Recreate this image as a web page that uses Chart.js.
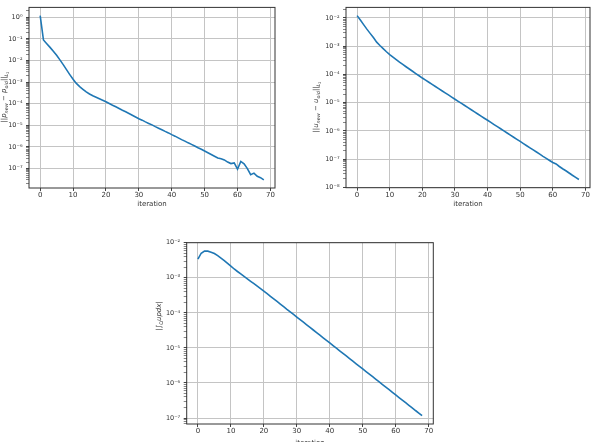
<!DOCTYPE html>
<html>
<head>
<meta charset="utf-8">
<script src="https://cdn.jsdelivr.net/npm/chart.js@4"></script>
<style>
  body { margin: 0; background: #fff; width: 591px; height: 442px; overflow: hidden; position: relative; }
  canvas { position: absolute; }
</style>
</head>
<body>
<canvas id="pChart" width="285" height="215" style="left:0px;top:0px"></canvas>
<canvas id="uChart" width="296" height="215" style="left:295px;top:0px"></canvas>
<canvas id="intChart" width="300" height="212" style="left:140px;top:230px"></canvas>
<script>
// iteration numbers (x axis)
const iterations = [
  0, 1, 2, 3, 4, 5, 6, 7, 8, 9,
  10, 11, 12, 13, 14, 15, 16, 17, 18, 19,
  20, 21, 22, 23, 24, 25, 26, 27, 28, 29,
  30, 31, 32, 33, 34, 35, 36, 37, 38, 39,
  40, 41, 42, 43, 44, 45, 46, 47, 48, 49,
  50, 51, 52, 53, 54, 55, 56, 57, 58, 59,
  60, 61, 62, 63, 64, 65, 66, 67, 68
];
const xTicks = [0, 10, 20, 30, 40, 50, 60, 70];

// ||p_new - p_old||
const pDiff = [
  1.20, 8.91e-2, 6.03e-2, 4.07e-2, 2.69e-2, 1.74e-2, 1.07e-2, 6.46e-3, 3.80e-3, 2.24e-3,
  1.35e-3, 8.71e-4, 6.17e-4, 4.68e-4, 3.55e-4, 2.82e-4, 2.34e-4, 2.00e-4, 1.70e-4, 1.45e-4,
  1.23e-4, 1.02e-4, 8.51e-5, 7.24e-5, 6.03e-5, 5.01e-5, 4.27e-5, 3.55e-5, 2.95e-5, 2.45e-5,
  2.04e-5, 1.74e-5, 1.45e-5, 1.23e-5, 1.05e-5, 8.71e-6, 7.41e-6, 6.31e-6, 5.25e-6, 4.47e-6,
  3.72e-6, 3.16e-6, 2.63e-6, 2.19e-6, 1.86e-6, 1.55e-6, 1.32e-6, 1.10e-6, 9.12e-7, 7.76e-7,
  6.46e-7, 5.37e-7, 4.47e-7, 3.72e-7, 3.09e-7, 2.82e-7, 2.51e-7, 2.00e-7, 1.70e-7, 1.82e-7,
  9.33e-8, 2.14e-7, 1.66e-7, 1.00e-7, 5.25e-8, 6.17e-8, 4.37e-8, 3.80e-8, 3.02e-8
];

// ||u_new - u_old||
const uDiff = [
  1.20e-2, 8.32e-3, 5.75e-3, 3.98e-3, 2.82e-3, 2.00e-3, 1.38e-3, 1.05e-3, 8.13e-4, 6.31e-4,
  5.01e-4, 4.07e-4, 3.31e-4, 2.69e-4, 2.24e-4, 1.86e-4, 1.55e-4, 1.29e-4, 1.07e-4, 8.91e-5,
  7.41e-5, 6.24e-5, 5.25e-5, 4.43e-5, 3.72e-5, 3.13e-5, 2.64e-5, 2.22e-5, 1.87e-5, 1.57e-5,
  1.32e-5, 1.11e-5, 9.38e-6, 7.91e-6, 6.65e-6, 5.60e-6, 4.71e-6, 3.96e-6, 3.34e-6, 2.81e-6,
  2.37e-6, 1.99e-6, 1.67e-6, 1.41e-6, 1.19e-6, 1.00e-6, 8.41e-7, 7.08e-7, 5.97e-7, 5.02e-7,
  4.23e-7, 3.56e-7, 2.99e-7, 2.52e-7, 2.12e-7, 1.79e-7, 1.50e-7, 1.26e-7, 1.07e-7, 8.97e-8,
  7.59e-8, 6.76e-8, 5.50e-8, 4.57e-8, 3.89e-8, 3.24e-8, 2.69e-8, 2.26e-8, 1.91e-8
];

// |integral of u p dx|
const intUp = [
  3.39e-3, 5.01e-3, 5.75e-3, 5.75e-3, 5.37e-3, 4.90e-3, 4.27e-3, 3.63e-3, 3.09e-3, 2.57e-3,
  2.14e-3, 1.78e-3, 1.51e-3, 1.29e-3, 1.10e-3, 9.33e-4, 7.94e-4, 6.76e-4, 5.75e-4, 4.90e-4,
  4.17e-4, 3.52e-4, 2.96e-4, 2.50e-4, 2.11e-4, 1.78e-4, 1.50e-4, 1.26e-4, 1.07e-4, 9.00e-5,
  7.59e-5, 6.40e-5, 5.40e-5, 4.55e-5, 3.84e-5, 3.24e-5, 2.73e-5, 2.30e-5, 1.94e-5, 1.64e-5,
  1.38e-5, 1.16e-5, 9.82e-6, 8.28e-6, 6.98e-6, 5.89e-6, 4.97e-6, 4.19e-6, 3.53e-6, 2.98e-6,
  2.51e-6, 2.12e-6, 1.79e-6, 1.51e-6, 1.27e-6, 1.07e-6, 9.04e-7, 7.62e-7, 6.43e-7, 5.42e-7,
  4.57e-7, 3.85e-7, 3.25e-7, 2.74e-7, 2.31e-7, 1.95e-7, 1.64e-7, 1.39e-7, 1.17e-7
];

// y axis limits [min, max]
const pLimits = [1.26e-8, 2.88];
const uLimits = [9.77e-9, 2.34e-2];
const intLimits = [6.76e-8, 1.0e-2];

const FONT = '"DejaVu Sans", sans-serif';
const TEXT = '#333';
const SUP = { '0': '⁰', '1': '¹', '2': '²', '3': '³', '4': '⁴', '5': '⁵', '6': '⁶', '7': '⁷', '8': '⁸', '9': '⁹', '-': '⁻' };

function isDecade(v) {
  const l = Math.log10(v);
  return Math.abs(l - Math.round(l)) < 1e-6;
}

function decadeLabel(v) {
  if (!isDecade(v)) return '';
  const e = String(Math.round(Math.log10(v)));
  return '10' + e.split('').map(c => SUP[c]).join('');
}

// draw text with subscripts; parts = [{t, it, sub}]
function drawRich(ctx, parts, x, y, rotate, size) {
  const fontOf = p => (p.it ? 'italic ' : '') + (size * (p.sub === 1 ? 0.7 : p.sub === 2 ? 0.5 : 1)) + 'px ' + FONT;
  ctx.save();
  ctx.translate(x, y);
  if (rotate) ctx.rotate(-Math.PI / 2);
  let total = 0;
  parts.forEach(p => { ctx.font = fontOf(p); total += ctx.measureText(p.t).width; });
  let cx = -total / 2;
  ctx.fillStyle = TEXT;
  ctx.textBaseline = 'alphabetic';
  ctx.textAlign = 'left';
  parts.forEach(p => {
    ctx.font = fontOf(p);
    const dy = size * 0.35 + (p.sub === 1 ? size * 0.25 : p.sub === 2 ? size * 0.4 : 0);
    ctx.fillText(p.t, cx, dy);
    cx += ctx.measureText(p.t).width;
  });
  ctx.restore();
}

function makeChart(id, values, limits, box, yTitle, yTitlePos, xTitlePos) {
  const frame = {
    id: 'frame',
    afterDraw(chart) {
      const ctx = chart.ctx;
      const a = chart.chartArea;
      ctx.save();
      ctx.strokeStyle = '#333';
      ctx.lineWidth = 1;
      ctx.strokeRect(a.left, a.top, a.right - a.left, a.bottom - a.top);
      ctx.restore();
      drawRich(ctx, yTitle, yTitlePos[0], yTitlePos[1], true, 7);
      drawRich(ctx, [{ t: 'iteration' }], xTitlePos[0], xTitlePos[1], false, 7);
    }
  };

  return new Chart(document.getElementById(id), {
    type: 'line',
    data: {
      labels: iterations,
      datasets: [{
        data: values,
        borderColor: '#1f77b4',
        borderWidth: 1.6,
        pointRadius: 0,
        tension: 0,
        fill: false
      }]
    },
    options: {
      responsive: false,
      animation: false,
      layout: { padding: { top: box.top, right: box.right, left: 0, bottom: 0 } },
      plugins: { legend: { display: false }, tooltip: { enabled: false } },
      scales: {
        x: {
          type: 'linear',
          min: -3.4,
          max: 71.4,
          afterBuildTicks: s => { s.ticks = xTicks.map(v => ({ value: v })); },
          afterFit: s => { s.height = box.xh; },
          border: { display: false },
          grid: { color: '#c4c4c4', lineWidth: 1, tickLength: 3, tickColor: '#444' },
          ticks: { padding: 0, color: TEXT, font: { family: FONT, size: 7 }, autoSkip: false, maxRotation: 0 }
        },
        y: {
          type: 'logarithmic',
          min: limits[0],
          max: limits[1],
          afterBuildTicks: s => {
            const ticks = [];
            const lo = Math.floor(Math.log10(s.min));
            const hi = Math.ceil(Math.log10(s.max));
            for (let e = lo; e <= hi; e++) {
              for (let m = 1; m <= 9; m++) {
                const v = m * Math.pow(10, e);
                if (v >= s.min * 0.9999 && v <= s.max * 1.0001) ticks.push({ value: v, major: m === 1 });
              }
            }
            s.ticks = ticks;
          },
          afterFit: s => { s.width = box.left; },
          border: { display: false },
          grid: {
            color: c => (c.tick && isDecade(c.tick.value)) ? '#c4c4c4' : 'rgba(0,0,0,0)',
            tickColor: c => (c.tick && isDecade(c.tick.value)) ? '#444' : '#888',
            lineWidth: 1,
            tickLength: 3
          },
          ticks: {
            padding: 3.5,
            color: TEXT,
            font: { family: FONT, size: 6.5 },
            autoSkip: false,
            callback: v => decadeLabel(v)
          }
        }
      }
    },
    plugins: [frame]
  });
}

makeChart('pChart', pDiff, pLimits,
  { top: 4, right: 10, left: 29, xh: 27 },
  [{ t: '||' }, { t: 'p', it: 1 }, { t: 'new', it: 1, sub: 1 }, { t: ' − ' }, { t: 'p', it: 1 },
   { t: 'old', it: 1, sub: 1 }, { t: '||' }, { t: 'L', it: 1, sub: 1 }, { t: '2', sub: 2 }],
  [3.5, 97], [152, 204]);

makeChart('uChart', uDiff, uLimits,
  { top: 4.7, right: 1, left: 51, xh: 27.3 },
  [{ t: '||' }, { t: 'u', it: 1 }, { t: 'new', it: 1, sub: 1 }, { t: ' − ' }, { t: 'u', it: 1 },
   { t: 'old', it: 1, sub: 1 }, { t: '||' }, { t: 'L', it: 1, sub: 1 }, { t: '2', sub: 2 }],
  [21, 107], [173, 204]);

makeChart('intChart', intUp, intLimits,
  { top: 12.7, right: 6.7, left: 46.7, xh: 18 },
  [{ t: '|∫' }, { t: 'Ω', sub: 1 }, { t: 'updx', it: 1 }, { t: '|' }],
  [19, 86], [170, 213]);
</script>
</body>
</html>
